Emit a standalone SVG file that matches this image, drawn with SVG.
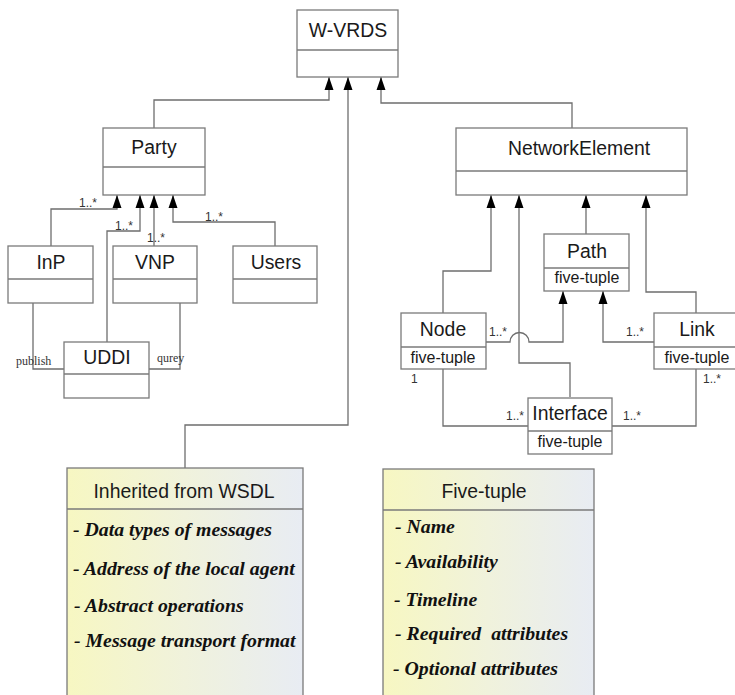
<svg xmlns="http://www.w3.org/2000/svg" width="735" height="695" viewBox="0 0 735 695">
  <defs>
    <style>
      .box { fill: #ffffff; stroke: #7a7a7a; stroke-width: 1.3; }
      .div { stroke: #7a7a7a; stroke-width: 1.3; }
      .note { stroke: #7a7a7a; stroke-width: 1.3; fill: url(#noteFill); }
      .name { font-family: "Liberation Sans", Arial, sans-serif; font-size: 19.4px; fill: #1a1a1a; text-anchor: middle; }
      .attr { font-family: "Liberation Sans", Arial, sans-serif; font-size: 16px; fill: #1a1a1a; text-anchor: middle; }
      .mult { font-family: "Liberation Sans", Arial, sans-serif; font-size: 12px; fill: #333333; }
      .role { font-family: "Liberation Serif", "Times New Roman", serif; font-size: 12px; fill: #333333; }
      .item { font-family: "Liberation Serif", "Times New Roman", serif; font-size: 19.8px; font-weight: bold; font-style: italic; fill: #111111; white-space: pre; }
      .conn path { fill: none; stroke: #6e6e6e; stroke-width: 1.3; }
    </style>
    <linearGradient id="noteFill" x1="0" y1="0" x2="1" y2="0">
      <stop offset="0" stop-color="#f7f7c2"/>
      <stop offset="0.5" stop-color="#f0f2dc"/>
      <stop offset="1" stop-color="#e8ecf3"/>
    </linearGradient>
    <marker id="tri" markerUnits="userSpaceOnUse" markerWidth="14" markerHeight="10" refX="13" refY="5" orient="auto">
      <path d="M0,0.5 L13,5 L0,9.5 z" fill="#000000"/>
    </marker>
  </defs>

  <rect width="735" height="695" fill="#ffffff"/>

  <!-- connectors -->
  <g id="connectors" class="conn">
    <path d="M154,128 V100 H329 V77" marker-end="url(#tri)"/>
    <path d="M185,468 V425 H348 V77" marker-end="url(#tri)"/>
    <path d="M572,128 V103 H381 V77" marker-end="url(#tri)"/>
    <path d="M51,246 V209 H117 V195" marker-end="url(#tri)"/>
    <path d="M107,342 V231 H140 V195" marker-end="url(#tri)"/>
    <path d="M154,246 V195" marker-end="url(#tri)"/>
    <path d="M275,246 V222 H173 V195" marker-end="url(#tri)"/>
    <path d="M33,303 V369 H64"/>
    <path d="M180,303 V369 H149"/>
    <path d="M443,313 V271 H491 V195" marker-end="url(#tri)"/>
    <path d="M570,397 V363 H519 V195" marker-end="url(#tri)"/>
    <path d="M586,234 V195" marker-end="url(#tri)"/>
    <path d="M696,313 V292 H646 V195" marker-end="url(#tri)"/>
    <path d="M486,342 H510 A9.5,9.5 0 0 1 529,342 H563 V291" marker-end="url(#tri)"/>
    <path d="M654,342 H603 V291" marker-end="url(#tri)"/>
    <path d="M443,369 V426 H528"/>
    <path d="M696,369 V426 H612"/>
  </g>

  <!-- connector labels -->
  <g id="labels">
    <text class="mult" x="79" y="207">1..*</text>
    <text class="mult" x="115" y="230">1..*</text>
    <text class="mult" x="147" y="242">1..*</text>
    <text class="mult" x="205" y="221">1..*</text>
    <text class="role" x="16" y="365">publish</text>
    <text class="role" x="157" y="362">qurey</text>
    <text class="mult" x="489" y="336">1..*</text>
    <text class="mult" x="626" y="336">1..*</text>
    <text class="mult" x="411" y="383">1</text>
    <text class="mult" x="506" y="420">1..*</text>
    <text class="mult" x="623" y="420">1..*</text>
    <text class="mult" x="703" y="383">1..*</text>
  </g>

  <g id="w-vrds">
    <rect class="box" x="297" y="10" width="101" height="67"/>
    <line class="div" x1="297" y1="50" x2="398" y2="50"/>
    <text class="name" x="348" y="37">W-VRDS</text>
  </g>

  <g id="party">
    <rect class="box" x="103" y="128" width="102" height="67"/>
    <line class="div" x1="103" y1="167" x2="205" y2="167"/>
    <text class="name" x="154" y="154">Party</text>
  </g>

  <g id="network-element">
    <rect class="box" x="456" y="128" width="231" height="67"/>
    <line class="div" x1="456" y1="171" x2="687" y2="171"/>
    <text class="name" x="579" y="155">NetworkElement</text>
  </g>

  <g id="inp">
    <rect class="box" x="8" y="246" width="85" height="57"/>
    <line class="div" x1="8" y1="279" x2="93" y2="279"/>
    <text class="name" x="51" y="269">InP</text>
  </g>

  <g id="vnp">
    <rect class="box" x="113" y="246" width="84" height="57"/>
    <line class="div" x1="113" y1="279" x2="197" y2="279"/>
    <text class="name" x="155" y="269">VNP</text>
  </g>

  <g id="users">
    <rect class="box" x="233" y="246" width="84" height="57"/>
    <line class="div" x1="233" y1="279" x2="317" y2="279"/>
    <text class="name" x="276" y="269">Users</text>
  </g>

  <g id="uddi">
    <rect class="box" x="64" y="342" width="85" height="56"/>
    <line class="div" x1="64" y1="374" x2="149" y2="374"/>
    <text class="name" x="107" y="364">UDDI</text>
  </g>

  <g id="path">
    <rect class="box" x="544" y="234" width="85" height="57"/>
    <line class="div" x1="544" y1="268" x2="629" y2="268"/>
    <text class="name" x="587" y="258">Path</text>
    <text class="attr" x="587" y="283">five-tuple</text>
  </g>

  <g id="node">
    <rect class="box" x="401" y="313" width="85" height="56"/>
    <line class="div" x1="401" y1="347" x2="486" y2="347"/>
    <text class="name" x="443" y="336">Node</text>
    <text class="attr" x="443" y="363">five-tuple</text>
  </g>

  <g id="link">
    <rect class="box" x="654" y="313" width="86" height="56"/>
    <line class="div" x1="654" y1="347" x2="740" y2="347"/>
    <text class="name" x="697" y="336">Link</text>
    <text class="attr" x="697" y="363">five-tuple</text>
  </g>

  <g id="interface">
    <rect class="box" x="528" y="398" width="84" height="56"/>
    <line class="div" x1="528" y1="431" x2="612" y2="431"/>
    <text class="name" x="570" y="420">Interface</text>
    <text class="attr" x="570" y="447">five-tuple</text>
  </g>

  <g id="wsdl-note">
    <rect class="note" x="67" y="468" width="236" height="232"/>
    <line class="div" x1="67" y1="509" x2="303" y2="509"/>
    <text class="name" x="184" y="498">Inherited from WSDL</text>
    <text class="item" x="73" y="536">- Data types of messages</text>
    <text class="item" x="73" y="575">- Address of the local agent</text>
    <text class="item" x="74" y="612">- Abstract operations</text>
    <text class="item" x="74" y="647">- Message transport format</text>
  </g>

  <g id="five-tuple-note">
    <rect class="note" x="383" y="469" width="211" height="231"/>
    <line class="div" x1="383" y1="510" x2="594" y2="510"/>
    <text class="name" x="484" y="498">Five-tuple</text>
    <text class="item" x="395" y="533">- Name</text>
    <text class="item" x="395" y="568">- Availability</text>
    <text class="item" x="394" y="606">- Timeline</text>
    <text class="item" x="395" y="640">- Required  attributes</text>
    <text class="item" x="393" y="675">- Optional attributes</text>
  </g>
</svg>
